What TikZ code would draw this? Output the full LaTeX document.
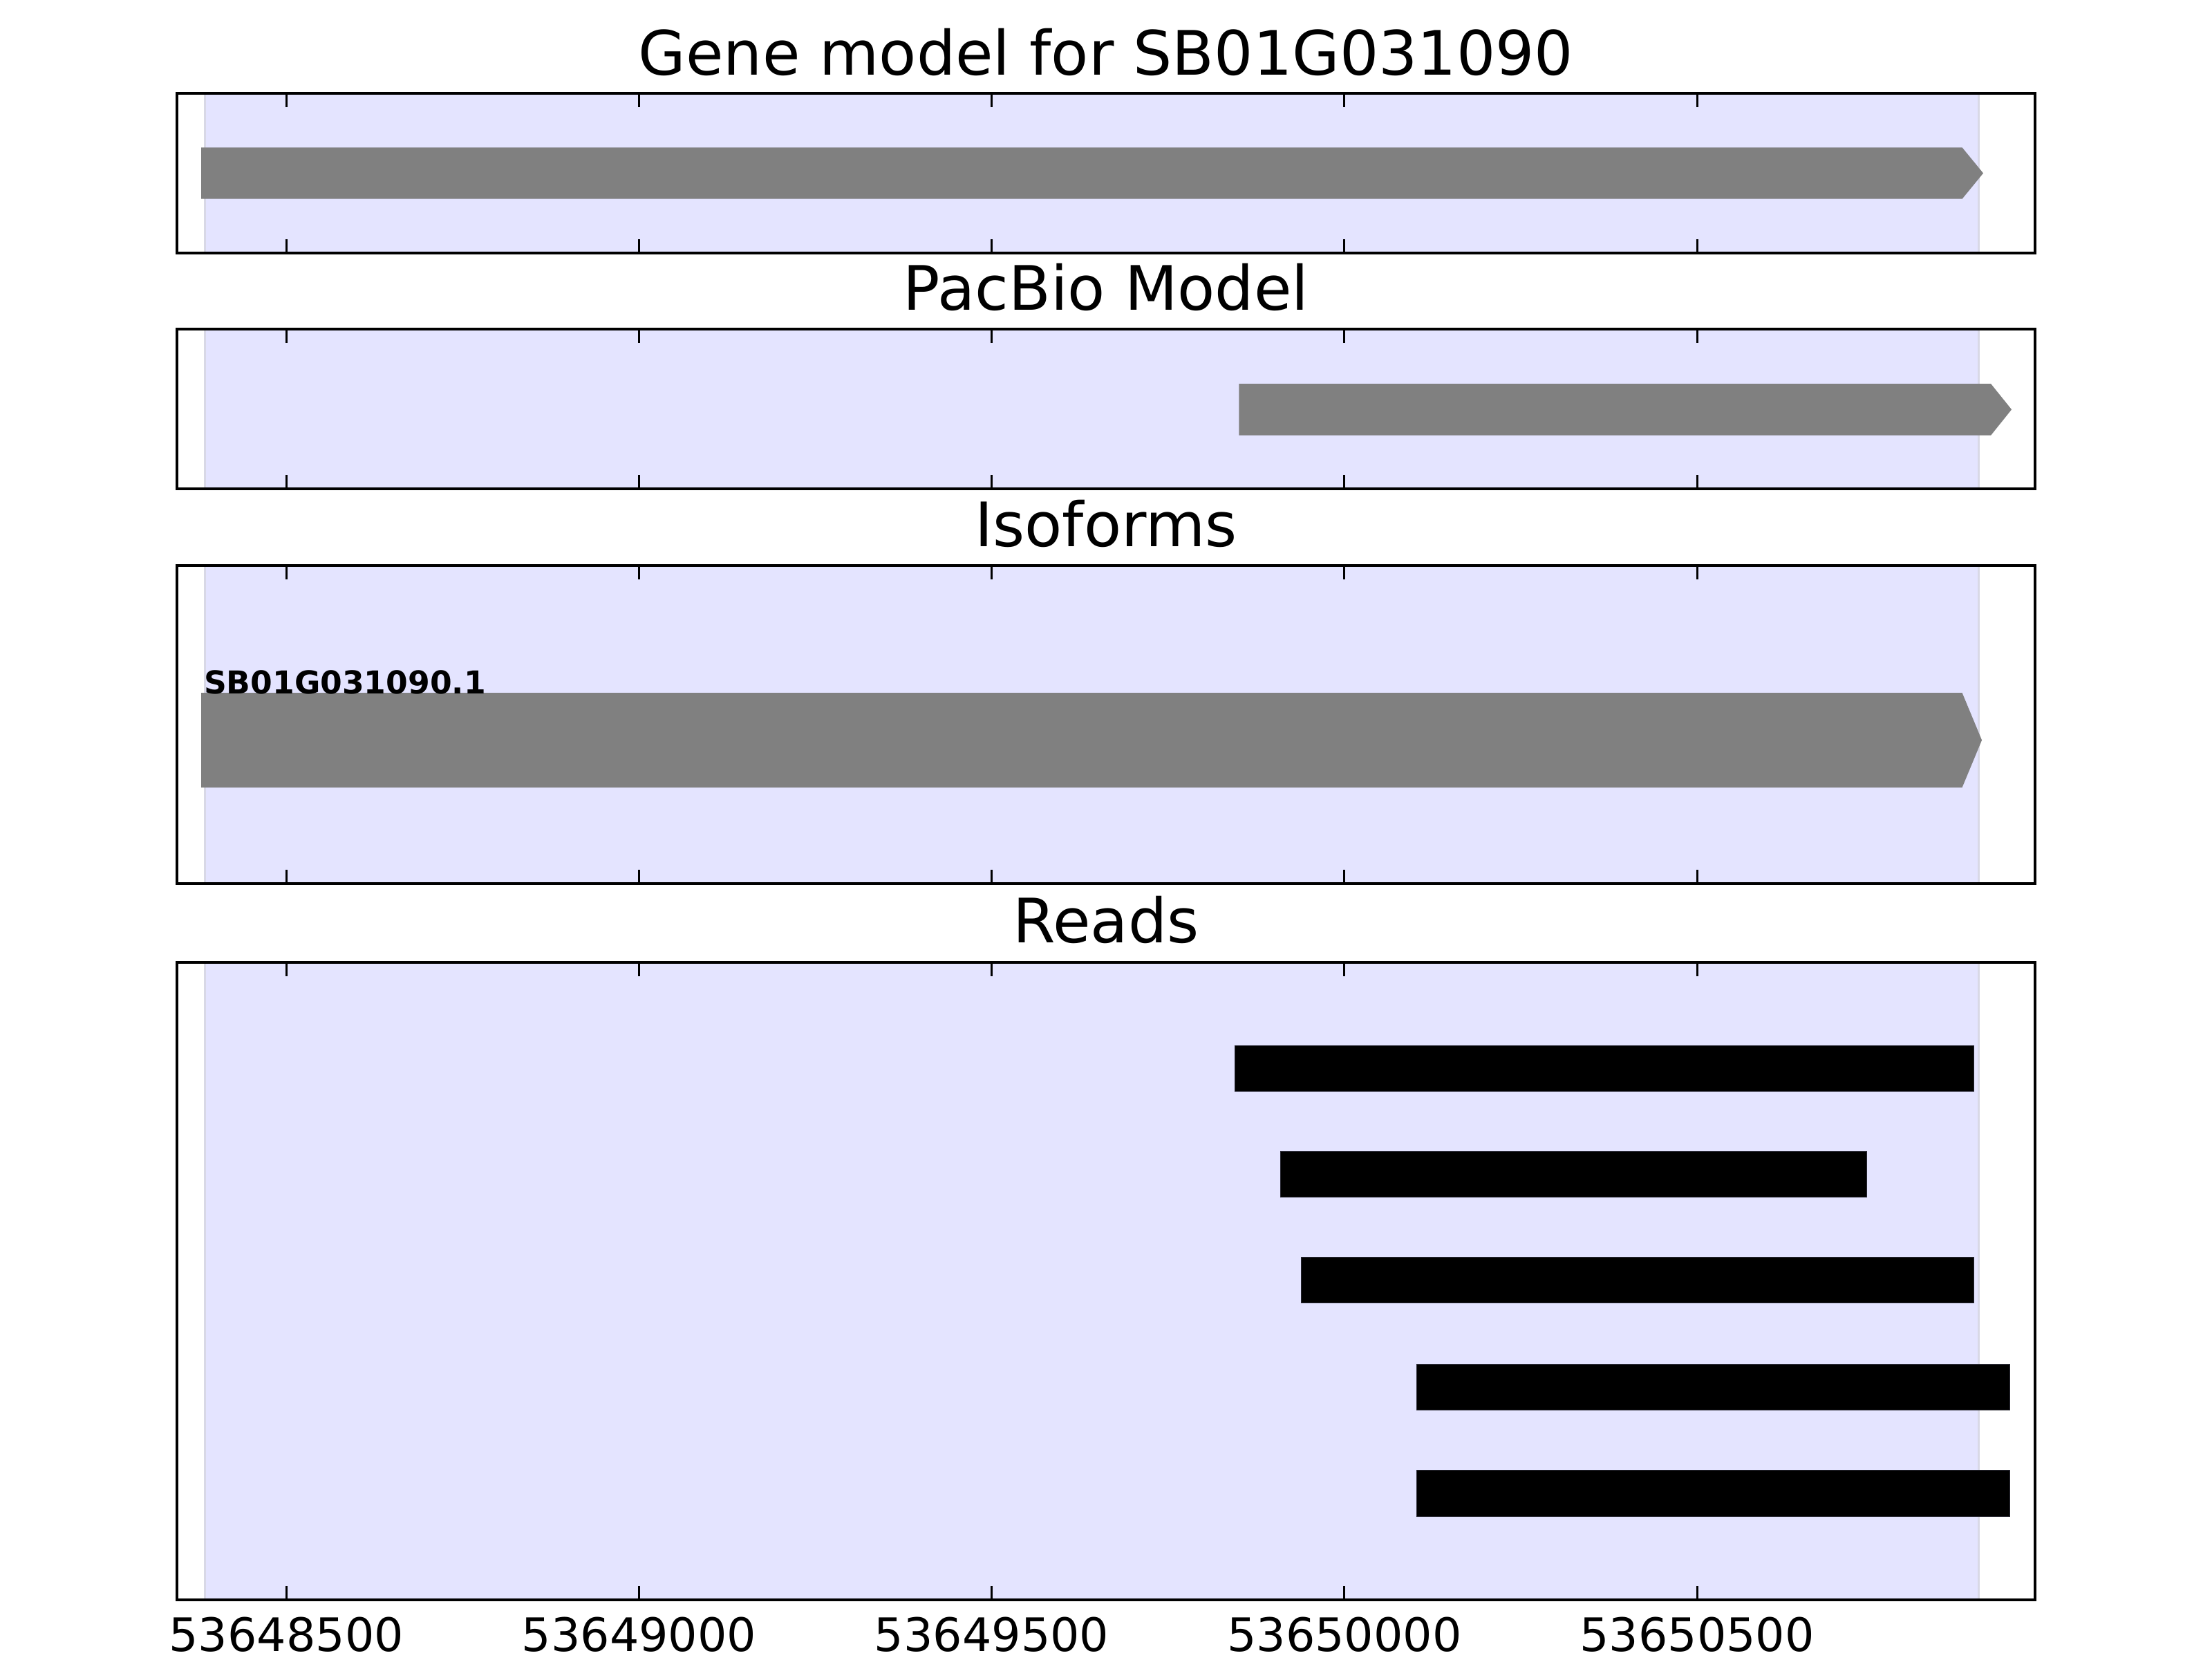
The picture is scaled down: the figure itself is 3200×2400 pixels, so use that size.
\documentclass[tikz,border=0pt]{standalone}
\usepackage{fontspec}
\setmainfont{DejaVu Sans}
\definecolor{shadefill}{RGB}{228,228,255}
\definecolor{shadeedge}{RGB}{216,216,230}
\definecolor{barfill}{RGB}{128,128,128}
\begin{document}
\begin{tikzpicture}[x=0.1pt,y=-0.1pt,
  axframe/.style={line width=0.45pt,draw=black},
  tickmark/.style={line width=0.3pt,draw=black},
  region/.style={fill=shadefill},
  regionedge/.style={draw=shadeedge,line width=0.3pt},
  genebar/.style={fill=barfill},
  readbar/.style={fill=black,draw={rgb,255:red,40;green,40;blue,50},line width=0.1pt},
  paneltitle/.style={anchor=base,inner sep=0pt,font=\fontsize{8.86}{10}\selectfont},
  ticklabel/.style={anchor=base,inner sep=0pt,font=\fontsize{6.67}{8}\selectfont},
  isolabel/.style={anchor=base west,inner sep=0pt,font=\fontsize{4.56}{5.5}\selectfont\bfseries}]
\useasboundingbox (0,0) rectangle (3200,2400);
\fill[white] (0,0) rectangle (3200,2400);

% shaded gene region in every panel
\foreach \t/\b in {135/366,476/707,818/1278,1392/2314}{
  \fill[region] (296,\t) rectangle (2862.5,\b);
  \draw[regionedge] (296,\t) -- (296,\b);
  \draw[regionedge] (2862.5,\t) -- (2862.5,\b);
}

% panel 1: gene model
\fill[genebar] (291,213.3) -- (2838.5,213.3) -- (2869,250.5) -- (2838.5,287.7) -- (291,287.7) -- cycle;
% panel 2: PacBio model
\fill[genebar] (1792.3,555) -- (2880,555) -- (2910,592.3) -- (2880,629.7) -- (1792.3,629.7) -- cycle;
% panel 3: isoform
\fill[genebar] (291,1002) -- (2838.5,1002) -- (2867,1070.5) -- (2838.5,1139) -- (291,1139) -- cycle;
\node[isolabel] (iso1) at (293,1003) {SB01G031090.1};

% panel 4: reads
\draw[readbar] (1786,1512) rectangle (2855,1578);
\draw[readbar] (1852,1665) rectangle (2700,1731);
\draw[readbar] (1882,1818) rectangle (2855,1884);
\draw[readbar] (2049,1973) rectangle (2907,2039);
\draw[readbar] (2049,2126) rectangle (2907,2193);

% ticks and frames
\foreach \t/\b in {135/366,476/707,818/1278,1392/2314}{
  \foreach \x in {414.3,924.5,1434.7,1944.9,2455.1}{
    \draw[tickmark] (\x,\t) -- ++(0,20);
    \draw[tickmark] (\x,\b) -- ++(0,-20);
  }
  \draw[axframe] (256,\t) rectangle (2944,\b);
}

% titles
\node[paneltitle] (t1) at (1600,108.3) {Gene model for SB01G031090};
\node[paneltitle] (t2) at (1600,448.3) {PacBio Model};
\node[paneltitle] (t3) at (1600,790.7) {Isoforms};
\node[paneltitle] (t4) at (1600,1363.3) {Reads};

% tick labels
\node[ticklabel] (x1) at (414.3,2388) {53648500};
\node[ticklabel] (x2) at (924.5,2388) {53649000};
\node[ticklabel] (x3) at (1434.7,2388) {53649500};
\node[ticklabel] (x4) at (1944.9,2388) {53650000};
\node[ticklabel] (x5) at (2455.1,2388) {53650500};
\end{tikzpicture}
\end{document}
